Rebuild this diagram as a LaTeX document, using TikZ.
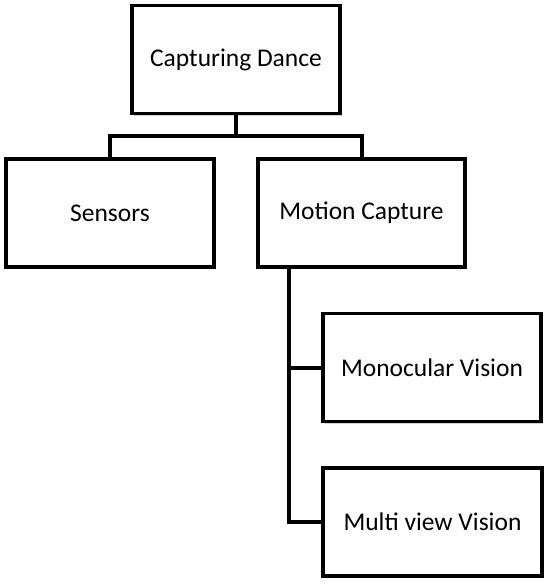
\documentclass[tikz,border=0pt]{standalone}
\usepackage{fontspec}
\setmainfont{Carlito}
\usetikzlibrary{shadows}
\begin{document}
\begin{tikzpicture}[x=1pt,y=-1pt,
  box/.style={draw=black,line width=3.5pt,fill=white,minimum width=#1,minimum height=108pt,inner sep=0pt,font=\fontsize{25.5}{30}\selectfont,
    general shadow={fill=black!18,shadow xshift=1.5pt,shadow yshift=-2pt}},
  box/.default=208pt,
  conn/.style={line width=4pt}]
\useasboundingbox (0,0) rectangle (546,584);
\node[box=208pt] (cd) at (236,59.5) {Capturing Dance};
\node[box=208pt] (sen) at (110,213) {Sensors};
\node[box=207pt] (mc) at (361.5,213) {Motion Capture};
\node[box=218pt] (mono) at (432,367.5) {Monocular Vision};
\node[box=219pt] (multi) at (432.5,522) {Multi view Vision};
\coordinate (bar) at (236,136);
\coordinate (spine) at (289,0);
\draw[conn] (cd.south) -- (bar);
\draw[conn] (sen.north) |- (bar) -| (mc.north);
\draw[conn] (mc.south -| spine) |- (mono.west);
\draw[conn] (mc.south -| spine) |- (multi.west);
\end{tikzpicture}
\end{document}
